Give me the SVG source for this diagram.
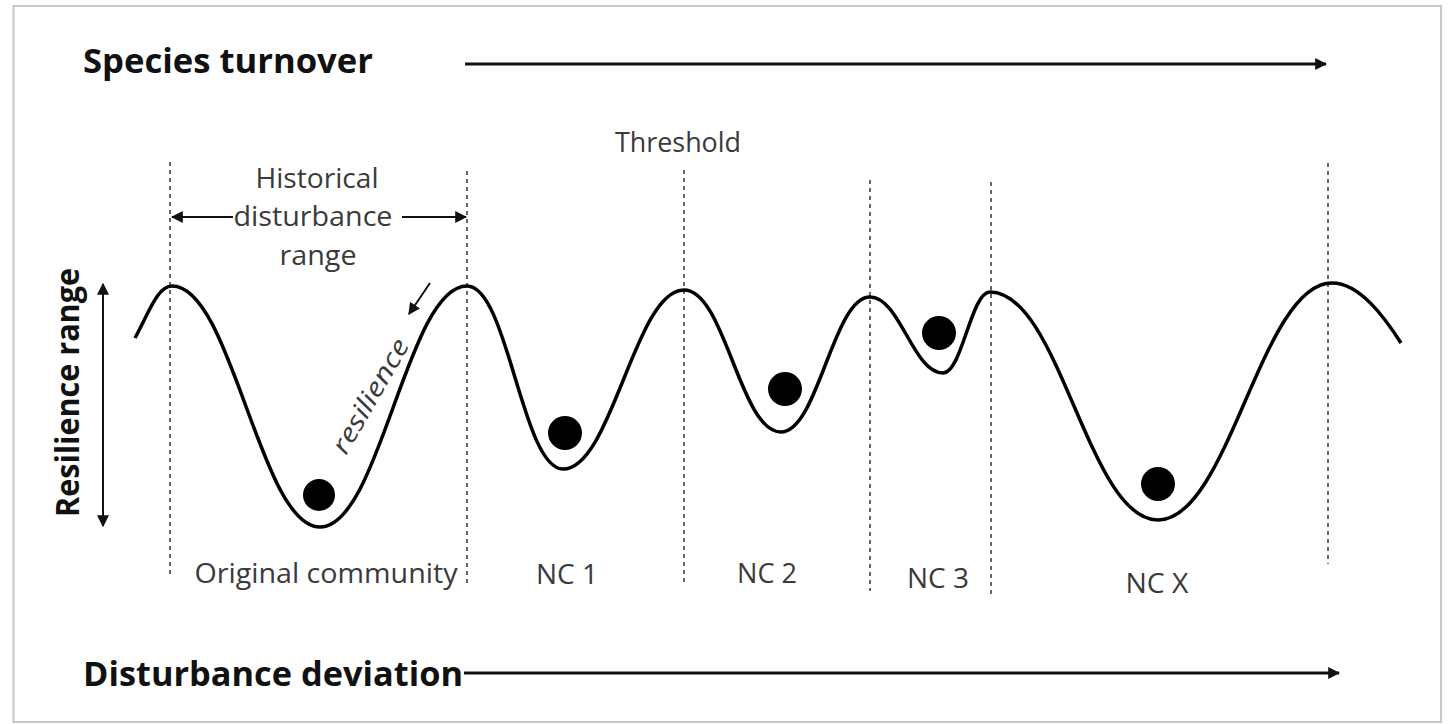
<svg xmlns="http://www.w3.org/2000/svg" width="1452" height="724" viewBox="0 0 1452 724">
<style>
.h{font-family:"Open Sans","Liberation Sans",sans-serif;font-weight:bold;fill:#111}
.l{font-family:"Open Sans","Liberation Sans",sans-serif;fill:#3a3a3a}
.dash{stroke:#666;stroke-width:2;stroke-dasharray:4 4;fill:none}
.ax{stroke:#111;fill:none}
.ball{fill:#000}
</style>
<defs>
<marker id="ah" viewBox="0 0 10 10" refX="9" refY="5" markerWidth="4" markerHeight="4" orient="auto-start-reverse" markerUnits="strokeWidth"><path d="M0,0 L10,5 L0,10 z" fill="#111"/></marker>
<marker id="ahs" viewBox="0 0 10 10" refX="9" refY="5" markerWidth="6" markerHeight="6" orient="auto-start-reverse" markerUnits="strokeWidth"><path d="M0,0 L10,5 L0,10 z" fill="#111"/></marker>
</defs>
<rect x="0" y="0" width="1452" height="724" fill="#fff"/>
<rect x="13.5" y="6" width="1427.5" height="716" fill="none" stroke="#c8c8c8" stroke-width="2"/>

<g id="species-turnover">
<text class="h" x="83" y="73" font-size="34" textLength="290" lengthAdjust="spacingAndGlyphs">Species turnover</text>
</g>
<g id="disturbance-deviation">
<text class="h" x="83" y="686" font-size="34" textLength="380" lengthAdjust="spacingAndGlyphs">Disturbance deviation</text>
</g>
<g id="resilience-range">
<text class="h" transform="translate(79,517) rotate(-90)" x="0" y="0" font-size="32" textLength="249" lengthAdjust="spacingAndGlyphs">Resilience range</text>
</g>

<g id="dividers">
<line class="dash" x1="170" y1="162" x2="170" y2="575"/>
<line class="dash" x1="467" y1="171" x2="467" y2="584"/>
<line class="dash" x1="684" y1="170" x2="684" y2="582"/>
<line class="dash" x1="870" y1="180" x2="870" y2="591"/>
<line class="dash" x1="991" y1="182" x2="991" y2="595"/>
<line class="dash" x1="1328" y1="163" x2="1328" y2="564"/>
</g>

<g id="landscape">
<path d="M135,338 C150,310 158,286 172,286 C232,286 260,527 320,527 C380,527 407,286 467,286 C508,286 522,469 563,469 C612,469 635,290 684,290 C725,290 740,432 781,432 C818,432 833,297 870,297 C900,297 913,373 943,373 C962,373 971,292 990,292 C1060,292 1088,520 1158,520 C1229,520 1261,283 1332,283 C1360,283 1385,318 1401,343" fill="none" stroke="#000" stroke-width="3.5"/>
</g>

<g id="balls">
<circle class="ball" cx="319" cy="495" r="16"/>
<circle class="ball" cx="565" cy="433" r="17"/>
<circle class="ball" cx="785" cy="389" r="17"/>
<circle class="ball" cx="939" cy="333" r="17"/>
<circle class="ball" cx="1158" cy="484" r="17"/>
</g>

<g id="connectors">
<line class="ax" x1="465" y1="64" x2="1326" y2="64" stroke-width="3" marker-end="url(#ah)"/>
<line class="ax" x1="464" y1="673" x2="1339" y2="673" stroke-width="3" marker-end="url(#ah)"/>
<line class="ax" x1="103" y1="284" x2="103" y2="526" stroke-width="2" marker-start="url(#ahs)" marker-end="url(#ahs)"/>
<line class="ax" x1="233" y1="217" x2="172" y2="217" stroke-width="2" marker-end="url(#ahs)"/>
<line class="ax" x1="402" y1="217" x2="466" y2="217" stroke-width="2" marker-end="url(#ahs)"/>
<line class="ax" x1="430" y1="283" x2="409" y2="314" stroke-width="2" marker-end="url(#ahs)"/>
</g>

<g id="labels">
<text class="l" x="678" y="152" font-size="27" text-anchor="middle" textLength="126" lengthAdjust="spacingAndGlyphs">Threshold</text>
<text class="l" x="317" y="188" font-size="27" text-anchor="middle" textLength="123" lengthAdjust="spacingAndGlyphs">Historical</text>
<text class="l" x="313" y="226" font-size="27" text-anchor="middle" textLength="159" lengthAdjust="spacingAndGlyphs">disturbance</text>
<text class="l" x="318" y="265" font-size="27" text-anchor="middle" textLength="77" lengthAdjust="spacingAndGlyphs">range</text>
<text class="l" transform="translate(346,456) rotate(-60)" font-size="26" font-style="italic" textLength="128" lengthAdjust="spacingAndGlyphs">resilience</text>
<text class="l" x="326" y="583" font-size="27" text-anchor="middle" textLength="263" lengthAdjust="spacingAndGlyphs">Original community</text>
<text class="l" x="567" y="584" font-size="27" text-anchor="middle" textLength="62" lengthAdjust="spacingAndGlyphs">NC 1</text>
<text class="l" x="767" y="583" font-size="27" text-anchor="middle" textLength="60" lengthAdjust="spacingAndGlyphs">NC 2</text>
<text class="l" x="938" y="588" font-size="27" text-anchor="middle" textLength="62" lengthAdjust="spacingAndGlyphs">NC 3</text>
<text class="l" x="1157" y="593" font-size="27" text-anchor="middle" textLength="63" lengthAdjust="spacingAndGlyphs">NC X</text>
</g>
</svg>
